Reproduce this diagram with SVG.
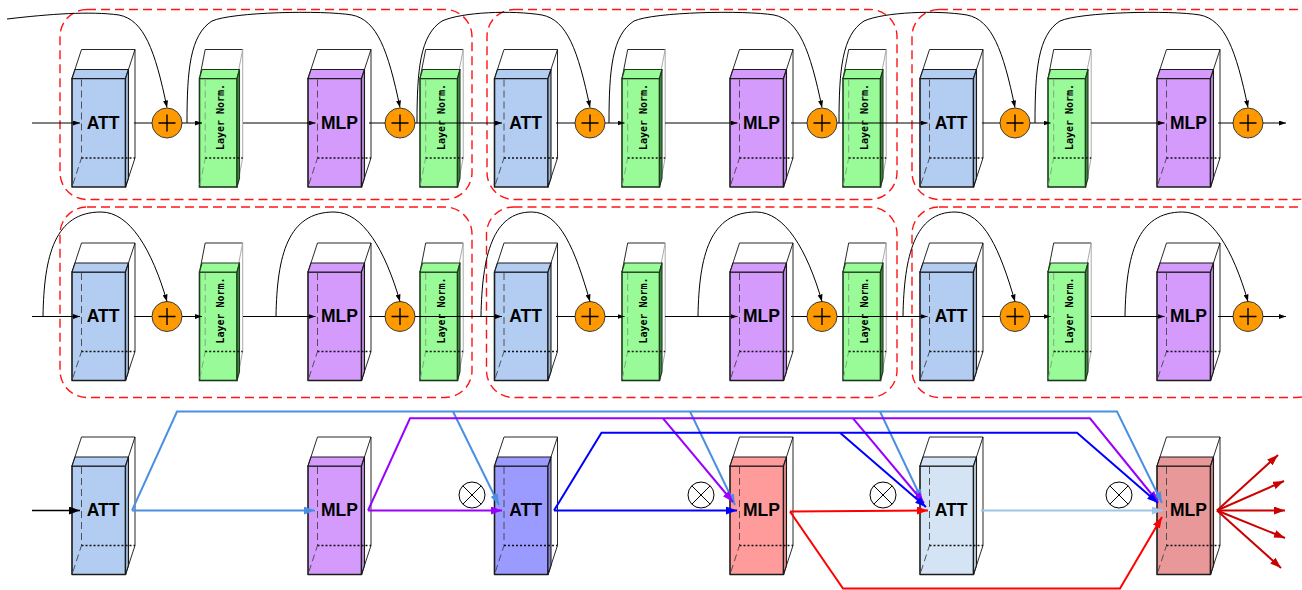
<svg xmlns="http://www.w3.org/2000/svg" xmlns:xlink="http://www.w3.org/1999/xlink" width="1302" height="590" viewBox="0 0 1302 590">
<defs>
<style>
  .face{stroke-width:1.6;stroke-linejoin:round}
  .cap{stroke-width:1.1;stroke-linejoin:round}
  .shade{fill:#000;fill-opacity:.12;stroke:none}
  .wire{fill:none;stroke:#111;stroke-width:.9}
  .wire-g{fill:none;stroke:#a0a0a0;stroke-width:.9}
  .hid{fill:none;stroke:#444;stroke-width:.9;stroke-dasharray:7 4}
  .hid-g{fill:none;stroke:#7f9f7f;stroke-width:.9;stroke-dasharray:7 4}
  .dot{fill:none;stroke:#111;stroke-width:1.4;stroke-dasharray:2 2}
  .c-att{fill:#b3cdf2;stroke:#1c1c1c}
  .c-mlp{fill:#d49bfc;stroke:#1c1c1c}
  .c-att-b{fill:#9a9aff;stroke:#1c1c1c}
  .c-mlp-r{fill:#ff9b9b;stroke:#1c1c1c}
  .c-att-l{fill:#d4e4f4;stroke:#1c1c1c}
  .c-mlp-d{fill:#e89898;stroke:#1c1c1c}
  .lbl{font-family:"Liberation Sans",Arial,sans-serif;font-weight:bold;font-size:17.5px;text-anchor:middle;fill:#000}
  .lnt{font-family:"DejaVu Sans Mono","Liberation Mono",monospace;font-weight:bold;font-size:10px;text-anchor:middle;fill:#000}
  .block{fill:none;stroke:#ff1414;stroke-width:1.4;stroke-dasharray:9 5}
  .adder-ring{fill:#ff9900;stroke:#3a3a3a;stroke-width:1}
  .adder-mark{fill:none;stroke:#000;stroke-width:1.4}
  .mul-ring{fill:#fff;stroke:#000;stroke-width:1}
  .mul-mark{fill:none;stroke:#000;stroke-width:1}
  .thin{fill:none;stroke:#000;stroke-width:1}
  .arr{marker-end:url(#ah)}
  .w2{fill:none;stroke-width:2;stroke-linejoin:miter}
  .k{stroke:#000;stroke-width:1.6}
  .lb{stroke:#4a8fe2}
  .pu{stroke:#9a00ff}
  .bl{stroke:#0000ff}
  .rd{stroke:#ff0000}
  .pb{stroke:#9fc5e8}
  .dr{stroke:#cc0000}
</style>

<!-- small black arrowhead for the encoder rows -->
<marker id="ah" viewBox="0 0 7 5" refX="7" refY="2.5" markerWidth="7" markerHeight="5" markerUnits="userSpaceOnUse" orient="auto"><path d="M0,0L7,2.5L0,5z" fill="#000"/></marker>
<!-- larger arrowheads for the dense routing row -->
<marker id="ah-k" viewBox="0 0 11 8" refX="11" refY="4" markerWidth="11" markerHeight="8" markerUnits="userSpaceOnUse" orient="auto"><path d="M0,0L11,4L0,8z" fill="#000"/></marker>
<marker id="ah-lb" viewBox="0 0 11 8" refX="11" refY="4" markerWidth="11" markerHeight="8" markerUnits="userSpaceOnUse" orient="auto"><path d="M0,0L11,4L0,8z" fill="#4a8fe2"/></marker>
<marker id="ah-pu" viewBox="0 0 11 8" refX="11" refY="4" markerWidth="11" markerHeight="8" markerUnits="userSpaceOnUse" orient="auto"><path d="M0,0L11,4L0,8z" fill="#9a00ff"/></marker>
<marker id="ah-bl" viewBox="0 0 11 8" refX="11" refY="4" markerWidth="11" markerHeight="8" markerUnits="userSpaceOnUse" orient="auto"><path d="M0,0L11,4L0,8z" fill="#0000ff"/></marker>
<marker id="ah-rd" viewBox="0 0 11 8" refX="11" refY="4" markerWidth="11" markerHeight="8" markerUnits="userSpaceOnUse" orient="auto"><path d="M0,0L11,4L0,8z" fill="#ff0000"/></marker>
<marker id="ah-pb" viewBox="0 0 11 8" refX="11" refY="4" markerWidth="11" markerHeight="8" markerUnits="userSpaceOnUse" orient="auto"><path d="M0,0L11,4L0,8z" fill="#9fc5e8"/></marker>
<marker id="ah-dr" viewBox="0 0 11 8" refX="11" refY="4" markerWidth="11" markerHeight="8" markerUnits="userSpaceOnUse" orient="auto"><path d="M0,0L11,4L0,8z" fill="#cc0000"/></marker>

<!-- wide block (ATT / MLP): origin at the top-left corner of the front face -->
<g id="box-w">
  <path class="wire" d="M0,0L9.5,-29H63V79.5L53.5,108.5M63,-29L53.5,0"/>
</g>
<g id="prism-w">
  <rect class="face" x="0" y="0" width="53.5" height="108.5"/>
  <path class="cap" d="M0,0L3,-9H56.5L53.5,0Z"/>
  <path class="cap" d="M53.5,0L56.5,-9V99.5L53.5,108.5Z"/>
  <path class="shade" d="M53.5,0L56.5,-9V99.5L53.5,108.5Z"/>
</g>
<g id="hidden-w">
  <path class="hid" d="M9.5,1V79.5L0,108.5"/>
  <path class="dot" d="M9.5,79.5H63"/>
</g>

<!-- narrow block (Layer Norm.) -->
<g id="box-n">
  <path class="wire" d="M0,0L5.7,-29H43.2"/>
  <path class="wire-g" d="M43.2,-29V79.5L37.5,108.5M43.2,-29L37.5,0"/>
  <rect x="0" y="0" width="37.5" height="108.5" fill="#98fb98" stroke="#1e3a1e" stroke-width="1.6"/>
  <path d="M0,0L2.5,-9H40L37.5,0Z" fill="#98fb98" stroke="#1e3a1e" stroke-width="1.1" stroke-linejoin="round"/>
  <path d="M37.5,0L40,-9V99.5L37.5,108.5Z" fill="#3f8a3f" stroke="#1e3a1e" stroke-width="1.1" stroke-linejoin="round"/>
  <path class="hid-g" d="M5.7,1V79.5L0,108.5"/>
  <path class="dot" d="M5.7,79.5H43.2"/>
  <text class="lnt" transform="translate(24.5,38.5) rotate(-90)">Layer Norm.</text>
</g>

<!-- residual adder and multiplier symbols -->
<g id="plus"><circle class="adder-ring" r="15"/><path class="adder-mark" d="M-8.5,0H8.5M0,-8.5V8.5"/></g>
<g id="times"><circle class="mul-ring" r="13"/><path class="mul-mark" d="M-9.2,-9.2L9.2,9.2M-9.2,9.2L9.2,-9.2"/></g>
</defs>

<rect width="1302" height="590" fill="#fff"/>

<!-- dashed block groupings -->
<g id="blocks">
  <rect class="block" x="60" y="9.5" width="412" height="190" rx="27"/>
  <rect class="block" x="487" y="9.5" width="410" height="190" rx="27"/>
  <rect class="block" x="912" y="9.5" width="412" height="190" rx="27"/>
  <rect class="block" x="60" y="207" width="412" height="190.5" rx="27"/>
  <rect class="block" x="486.5" y="207" width="410.5" height="190.5" rx="27"/>
  <rect class="block" x="912" y="207" width="412" height="190.5" rx="27"/>
</g>

<!-- row 1 : post-norm encoder -->
<g id="r1-att1" transform="translate(72,78.5)"><use xlink:href="#box-w"/><use xlink:href="#prism-w" class="c-att"/><use xlink:href="#hidden-w"/><text class="lbl" x="31" y="50">ATT</text></g>
<g id="r1-add1" transform="translate(167,123)"><use xlink:href="#plus"/></g>
<g id="r1-ln1" transform="translate(199.5,78.5)"><use xlink:href="#box-n"/></g>
<g id="r1-mlp1" transform="translate(308,78.5)"><use xlink:href="#box-w"/><use xlink:href="#prism-w" class="c-mlp"/><use xlink:href="#hidden-w"/><text class="lbl" x="31.5" y="50">MLP</text></g>
<g id="r1-add2" transform="translate(400,123)"><use xlink:href="#plus"/></g>
<g id="r1-ln2" transform="translate(420,78.5)"><use xlink:href="#box-n"/></g>
<g id="r1-att2" transform="translate(494.5,78.5)"><use xlink:href="#box-w"/><use xlink:href="#prism-w" class="c-att"/><use xlink:href="#hidden-w"/><text class="lbl" x="31" y="50">ATT</text></g>
<g id="r1-add3" transform="translate(590,123)"><use xlink:href="#plus"/></g>
<g id="r1-ln3" transform="translate(622,78.5)"><use xlink:href="#box-n"/></g>
<g id="r1-mlp2" transform="translate(730,78.5)"><use xlink:href="#box-w"/><use xlink:href="#prism-w" class="c-mlp"/><use xlink:href="#hidden-w"/><text class="lbl" x="31.5" y="50">MLP</text></g>
<g id="r1-add4" transform="translate(822,123)"><use xlink:href="#plus"/></g>
<g id="r1-ln4" transform="translate(843,78.5)"><use xlink:href="#box-n"/></g>
<g id="r1-att3" transform="translate(920,78.5)"><use xlink:href="#box-w"/><use xlink:href="#prism-w" class="c-att"/><use xlink:href="#hidden-w"/><text class="lbl" x="31" y="50">ATT</text></g>
<g id="r1-add5" transform="translate(1015,123)"><use xlink:href="#plus"/></g>
<g id="r1-ln5" transform="translate(1048,78.5)"><use xlink:href="#box-n"/></g>
<g id="r1-mlp3" transform="translate(1157,78.5)"><use xlink:href="#box-w"/><use xlink:href="#prism-w" class="c-mlp"/><use xlink:href="#hidden-w"/><text class="lbl" x="31.5" y="50">MLP</text></g>
<g id="r1-add6" transform="translate(1248,123)"><use xlink:href="#plus"/></g>

<!-- row 2 : norm placed before each sub-layer -->
<g id="r2-att1" transform="translate(72,272)"><use xlink:href="#box-w"/><use xlink:href="#prism-w" class="c-att"/><use xlink:href="#hidden-w"/><text class="lbl" x="31" y="50">ATT</text></g>
<g id="r2-add1" transform="translate(167,316.5)"><use xlink:href="#plus"/></g>
<g id="r2-ln1" transform="translate(199.5,272)"><use xlink:href="#box-n"/></g>
<g id="r2-mlp1" transform="translate(308,272)"><use xlink:href="#box-w"/><use xlink:href="#prism-w" class="c-mlp"/><use xlink:href="#hidden-w"/><text class="lbl" x="31.5" y="50">MLP</text></g>
<g id="r2-add2" transform="translate(400,316.5)"><use xlink:href="#plus"/></g>
<g id="r2-ln2" transform="translate(420,272)"><use xlink:href="#box-n"/></g>
<g id="r2-att2" transform="translate(494.5,272)"><use xlink:href="#box-w"/><use xlink:href="#prism-w" class="c-att"/><use xlink:href="#hidden-w"/><text class="lbl" x="31" y="50">ATT</text></g>
<g id="r2-add3" transform="translate(590,316.5)"><use xlink:href="#plus"/></g>
<g id="r2-ln3" transform="translate(622,272)"><use xlink:href="#box-n"/></g>
<g id="r2-mlp2" transform="translate(730,272)"><use xlink:href="#box-w"/><use xlink:href="#prism-w" class="c-mlp"/><use xlink:href="#hidden-w"/><text class="lbl" x="31.5" y="50">MLP</text></g>
<g id="r2-add4" transform="translate(822,316.5)"><use xlink:href="#plus"/></g>
<g id="r2-ln4" transform="translate(843,272)"><use xlink:href="#box-n"/></g>
<g id="r2-att3" transform="translate(920,272)"><use xlink:href="#box-w"/><use xlink:href="#prism-w" class="c-att"/><use xlink:href="#hidden-w"/><text class="lbl" x="31" y="50">ATT</text></g>
<g id="r2-add5" transform="translate(1015,316.5)"><use xlink:href="#plus"/></g>
<g id="r2-ln5" transform="translate(1048,272)"><use xlink:href="#box-n"/></g>
<g id="r2-mlp3" transform="translate(1157,272)"><use xlink:href="#box-w"/><use xlink:href="#prism-w" class="c-mlp"/><use xlink:href="#hidden-w"/><text class="lbl" x="31.5" y="50">MLP</text></g>
<g id="r2-add6" transform="translate(1248,316.5)"><use xlink:href="#plus"/></g>

<!-- row 3 : densely routed stack -->
<g id="r3-att1" transform="translate(72,466)"><use xlink:href="#box-w"/><use xlink:href="#prism-w" class="c-att"/><use xlink:href="#hidden-w"/><text class="lbl" x="31" y="50">ATT</text></g>
<g id="r3-mlp1" transform="translate(308,466)"><use xlink:href="#box-w"/><use xlink:href="#prism-w" class="c-mlp"/><use xlink:href="#hidden-w"/><text class="lbl" x="31.5" y="50">MLP</text></g>
<g id="r3-att2" transform="translate(494.5,466)"><use xlink:href="#box-w"/><use xlink:href="#prism-w" class="c-att-b"/><use xlink:href="#hidden-w"/><text class="lbl" x="31" y="50">ATT</text></g>
<g id="r3-mlp2" transform="translate(730,466)"><use xlink:href="#box-w"/><use xlink:href="#prism-w" class="c-mlp-r"/><use xlink:href="#hidden-w"/><text class="lbl" x="31.5" y="50">MLP</text></g>
<g id="r3-att3" transform="translate(920,466)"><use xlink:href="#box-w"/><use xlink:href="#prism-w" class="c-att-l"/><use xlink:href="#hidden-w"/><text class="lbl" x="31" y="50">ATT</text></g>
<g id="r3-mlp3" transform="translate(1157,466)"><use xlink:href="#box-w"/><use xlink:href="#prism-w" class="c-mlp-d"/><use xlink:href="#hidden-w"/><text class="lbl" x="31.5" y="50">MLP</text></g>
<g id="r3-mul1" transform="translate(472,495)"><use xlink:href="#times"/></g>
<g id="r3-mul2" transform="translate(701,495)"><use xlink:href="#times"/></g>
<g id="r3-mul3" transform="translate(883,495)"><use xlink:href="#times"/></g>
<g id="r3-mul4" transform="translate(1119,495)"><use xlink:href="#times"/></g>

<g id="connectors">
  <!-- row 1 main path -->
  <g class="thin">
    <path class="arr" d="M32,123H80"/>
    <path d="M134,123H152"/>
    <path class="arr" d="M182,123H202"/>
    <path class="arr" d="M243,123H315.5"/>
    <path d="M369,123H385"/>
    <path class="arr" d="M415,123H502"/>
    <path d="M556,123H575"/>
    <path class="arr" d="M605,123H624.5"/>
    <path class="arr" d="M665,123H737.5"/>
    <path d="M791,123H807"/>
    <path class="arr" d="M837,123H927.5"/>
    <path d="M982,123H1000"/>
    <path class="arr" d="M1030,123H1050.5"/>
    <path class="arr" d="M1091,123H1164.5"/>
    <path d="M1218,123H1233"/>
    <path class="arr" d="M1263,123H1286"/>
    <!-- row 1 residual skips -->
    <path class="arr" d="M7,19C50,14 90,11 119,15C144,20 155,50 167,107.5"/>
    <path class="arr" d="M187,123C187,70 190,35 212,21C232,12 322,10 352,15C377,20 388,50 400,107.5"/>
    <path class="arr" d="M417,123C417,70 420,35 442,21C462,12 512,10 542,15C567,20 578,50 590,107.5"/>
    <path class="arr" d="M609,123C609,70 612,35 634,21C654,12 744,10 774,15C799,20 810,50 822,107.5"/>
    <path class="arr" d="M839,123C839,70 842,35 864,21C884,12 937,10 967,15C992,20 1003,50 1015,107.5"/>
    <path class="arr" d="M1035,123C1035,70 1038,35 1060,21C1080,12 1170,10 1200,15C1225,20 1236,50 1248,107.5"/>
  </g>
  <!-- row 2 main path -->
  <g class="thin">
    <path class="arr" d="M32,316.5H80"/>
    <path d="M134,316.5H152"/>
    <path class="arr" d="M182,316.5H202"/>
    <path class="arr" d="M243,316.5H315.5"/>
    <path d="M369,316.5H385"/>
    <path class="arr" d="M415,316.5H502"/>
    <path d="M556,316.5H575"/>
    <path class="arr" d="M605,316.5H624.5"/>
    <path class="arr" d="M665,316.5H737.5"/>
    <path d="M791,316.5H807"/>
    <path class="arr" d="M837,316.5H927.5"/>
    <path d="M982,316.5H1000"/>
    <path class="arr" d="M1030,316.5H1050.5"/>
    <path class="arr" d="M1091,316.5H1164.5"/>
    <path d="M1218,316.5H1233"/>
    <path class="arr" d="M1263,316.5H1286"/>
    <!-- row 2 residual skips -->
    <path class="arr" d="M43,316.5C44,255 55,212 101,212C130,212 152,250 167,301.5"/>
    <path class="arr" d="M276,316.5C277,255 288,212 334,212C363,212 385,250 400,301.5"/>
    <path class="arr" d="M481,316.5C482,255 493,212 531.5,212C560.5,212 575,250 590,301.5"/>
    <path class="arr" d="M698,316.5C699,255 710,212 756,212C785,212 807,250 822,301.5"/>
    <path class="arr" d="M903,316.5C904,255 915,212 955,212C984,212 1000,250 1015,301.5"/>
    <path class="arr" d="M1125,316.5C1126,255 1137,212 1182.5,212C1211.5,212 1233,250 1248,301.5"/>
  </g>
  <!-- row 3 routing -->
  <path class="w2 k" d="M32,510.5H80" marker-end="url(#ah-k)"/>
  <g class="w2 lb">
    <path d="M132,510.5H315" marker-end="url(#ah-lb)"/>
    <path d="M132,510.5L177,411.5H1117L1162,503" marker-end="url(#ah-lb)"/>
    <path d="M453,411.5L499,505" marker-end="url(#ah-lb)"/>
    <path d="M690,411.5L735,505" marker-end="url(#ah-lb)"/>
    <path d="M880,411.5L922,500" marker-end="url(#ah-lb)"/>
  </g>
  <g class="w2 pu">
    <path d="M368,510.5H502" marker-end="url(#ah-pu)"/>
    <path d="M368,510.5L410,418.3H1090L1158,502" marker-end="url(#ah-pu)"/>
    <path d="M663,418.3L733,502" marker-end="url(#ah-pu)"/>
    <path d="M853,418.3L924,503" marker-end="url(#ah-pu)"/>
  </g>
  <g class="w2 bl">
    <path d="M554,510.5H737" marker-end="url(#ah-bl)"/>
    <path d="M554,510.5L601.5,432.7H1077L1158,503" marker-end="url(#ah-bl)"/>
    <path d="M840,432.7L926,507" marker-end="url(#ah-bl)"/>
  </g>
  <g class="w2 rd">
    <path d="M790,511.5L928,510.5" marker-end="url(#ah-rd)"/>
    <path d="M790,511.5L843,588.5H1120L1162,517" marker-end="url(#ah-rd)"/>
  </g>
  <path class="w2 pb" d="M981,510.5H1163" marker-end="url(#ah-pb)"/>
  <g class="w2 dr">
    <path d="M1217,510.5L1278,455" marker-end="url(#ah-dr)"/>
    <path d="M1217,510.5L1284,481" marker-end="url(#ah-dr)"/>
    <path d="M1217,510.5H1285" marker-end="url(#ah-dr)"/>
    <path d="M1217,510.5L1285,538" marker-end="url(#ah-dr)"/>
    <path d="M1217,510.5L1281,568" marker-end="url(#ah-dr)"/>
  </g>
</g>
</svg>
